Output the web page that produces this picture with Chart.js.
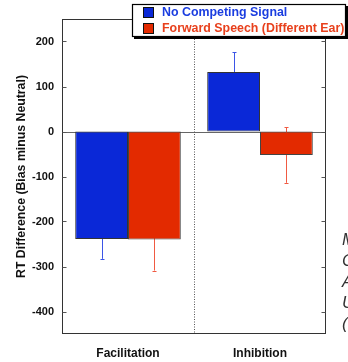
<!DOCTYPE html>
<html>
<head>
<meta charset="utf-8">
<script src="https://cdn.jsdelivr.net/npm/chart.js@4/dist/chart.umd.min.js"></script>
<style>
html,body{margin:0;padding:0;background:#fff;}
#wrap{width:348px;height:362px;position:relative;overflow:hidden;}
canvas{display:block;}
</style>
</head>
<body>
<div id="wrap"><canvas id="c" width="348" height="362"></canvas></div>
<script>
const categories = ['Facilitation', 'Inhibition'];
const seriesNames = ['No Competing Signal', 'Forward Speech (Different Ear)'];
const noCompeting = [-239, 132];
const noCompetingErr = [44, 44];
const forwardSpeech = [-240, -52];
const forwardSpeechErr = [69, 62];
const yTicks = [200, 100, 0, -100, -200, -300, -400];
const sideLetters = ['M', 'C', 'A', 'U', '('];

const FONT = "'Liberation Sans', Arial, Helvetica, sans-serif";
const BLUE = '#0a28d7';
const RED = '#e32a00';
const BLUE_ERR = '#3b55e6';
const RED_ERR = '#f05a42';
const BLUE_TXT = '#1a3de0';
const RED_TXT = '#e8401c';

const errors = [noCompetingErr, forwardSpeechErr];
const errColors = [BLUE_ERR, RED_ERR];

function frameBox(chart) {
  const a = chart.chartArea;
  return {
    L: Math.round(a.left) + 0.5, R: Math.round(a.right) - 0.5,
    T: Math.round(a.top) + 0.5, B: Math.round(a.bottom) - 0.5
  };
}

const errorBarPlugin = {
  id: 'errorBars',
  beforeDatasetsDraw(chart) {
    const ctx = chart.ctx;
    const y = chart.scales.y;
    const f = frameBox(chart);
    ctx.save();
    // zero line
    const z = Math.round(y.getPixelForValue(0)) + 0.5;
    ctx.strokeStyle = '#666';
    ctx.lineWidth = 1;
    ctx.beginPath();
    ctx.moveTo(f.L, z); ctx.lineTo(f.R, z);
    ctx.stroke();
    chart.data.datasets.forEach((ds, di) => {
      const meta = chart.getDatasetMeta(di);
      meta.data.forEach((bar, i) => {
        const v = ds.data[i];
        const e = errors[di][i];
        const yTop = y.getPixelForValue(v + e);
        const yBot = y.getPixelForValue(v - e);
        const x = Math.round(bar.x) + 0.5;
        ctx.strokeStyle = errColors[di];
        ctx.lineWidth = 1;
        ctx.beginPath();
        ctx.moveTo(x, yTop); ctx.lineTo(x, yBot);
        ctx.moveTo(x - 2, Math.round(yTop) + 0.5); ctx.lineTo(x + 2, Math.round(yTop) + 0.5);
        ctx.moveTo(x - 2, Math.round(yBot) + 0.5); ctx.lineTo(x + 2, Math.round(yBot) + 0.5);
        ctx.stroke();
      });
    });
    ctx.restore();
  }
};

const decorPlugin = {
  id: 'decor',
  afterDraw(chart) {
    const ctx = chart.ctx;
    const a = chart.chartArea;
    const x = chart.scales.x;
    const y = chart.scales.y;
    const f = frameBox(chart);
    ctx.save();
    // divider between categories
    const mid = Math.round((x.getPixelForValue(0) + x.getPixelForValue(1)) / 2) + 0.5;
    ctx.strokeStyle = '#555';
    ctx.lineWidth = 1;
    ctx.setLineDash([1, 1.5]);
    ctx.beginPath();
    ctx.moveTo(mid, a.top); ctx.lineTo(mid, a.bottom);
    ctx.stroke();
    ctx.setLineDash([]);
    // frame
    ctx.strokeStyle = '#333';
    ctx.lineWidth = 1;
    ctx.strokeRect(f.L, f.T, f.R - f.L, f.B - f.T);
    // inward ticks
    ctx.strokeStyle = '#555';
    ctx.beginPath();
    yTicks.forEach(v => {
      const py = Math.round(y.getPixelForValue(v)) + 0.5;
      ctx.moveTo(f.L, py); ctx.lineTo(f.L + 4, py);
      ctx.moveTo(f.R, py); ctx.lineTo(f.R - 4, py);
    });
    ctx.stroke();
    // legend
    const lx = 132, ly = 4, lw = 213, lh = 32;
    ctx.fillStyle = '#000';
    ctx.fillRect(lx + 2, ly + 2, lw + 1, lh + 1);
    ctx.fillStyle = '#fff';
    ctx.fillRect(lx, ly, lw, lh);
    ctx.strokeStyle = '#000';
    ctx.lineWidth = 1.2;
    ctx.strokeRect(lx + 0.5, ly + 0.5, lw, lh);
    const cols = [BLUE, RED];
    const tcols = [BLUE_TXT, RED_TXT];
    ctx.font = 'bold 12.4px ' + FONT;
    ctx.textBaseline = 'middle';
    ctx.textAlign = 'left';
    seriesNames.forEach((n, i) => {
      const cy = 12 + i * 16;
      ctx.fillStyle = cols[i];
      ctx.fillRect(143, cy - 5, 11, 10);
      ctx.strokeStyle = '#111';
      ctx.lineWidth = 1;
      ctx.strokeRect(143.5, cy - 4.5, 10, 10);
      ctx.fillStyle = tcols[i];
      ctx.fillText(n, 162, cy + 0.5);
    });
    // clipped side text
    ctx.font = 'italic 17px ' + FONT;
    ctx.fillStyle = '#333';
    ctx.textBaseline = 'alphabetic';
    sideLetters.forEach((s, i) => {
      ctx.fillText(s, 342, 244.5 + i * 21.2);
    });
    ctx.restore();
  }
};

new Chart(document.getElementById('c'), {
  type: 'bar',
  data: {
    labels: categories,
    datasets: [
      { label: seriesNames[0], data: noCompeting, backgroundColor: BLUE, borderColor: '#333', borderWidth: 1, borderSkipped: false },
      { label: seriesNames[1], data: forwardSpeech, backgroundColor: RED, borderColor: '#444', borderWidth: 1, borderSkipped: false }
    ]
  },
  options: {
    responsive: false,
    animation: false,
    devicePixelRatio: 1,
    layout: { padding: { top: 19, right: 22, left: 0, bottom: 0 } },
    datasets: { bar: { categoryPercentage: 0.8, barPercentage: 1.0 } },
    plugins: { legend: { display: false }, tooltip: { enabled: false } },
    scales: {
      x: {
        grid: { display: false, drawTicks: false },
        border: { display: false },
        ticks: { color: '#111', font: { family: FONT, size: 12, weight: 'bold' }, padding: 12 },
        afterFit(s) { s.height = 28; }
      },
      y: {
        min: -450, max: 250,
        afterBuildTicks(s) { s.ticks = yTicks.map(v => ({ value: v })); },
        grid: { display: false, drawTicks: false },
        border: { display: false },
        ticks: { color: '#111', font: { family: FONT, size: 11, weight: 'bold' }, padding: 8 },
        title: {
          display: true,
          text: 'RT Difference (Bias minus Neutral)',
          color: '#111',
          font: { family: FONT, size: 12.3, weight: 'bold' },
          padding: { top: 14, bottom: 0 }
        },
        afterFit(s) { s.width = 62; }
      }
    }
  },
  plugins: [errorBarPlugin, decorPlugin]
});
</script>
</body>
</html>
